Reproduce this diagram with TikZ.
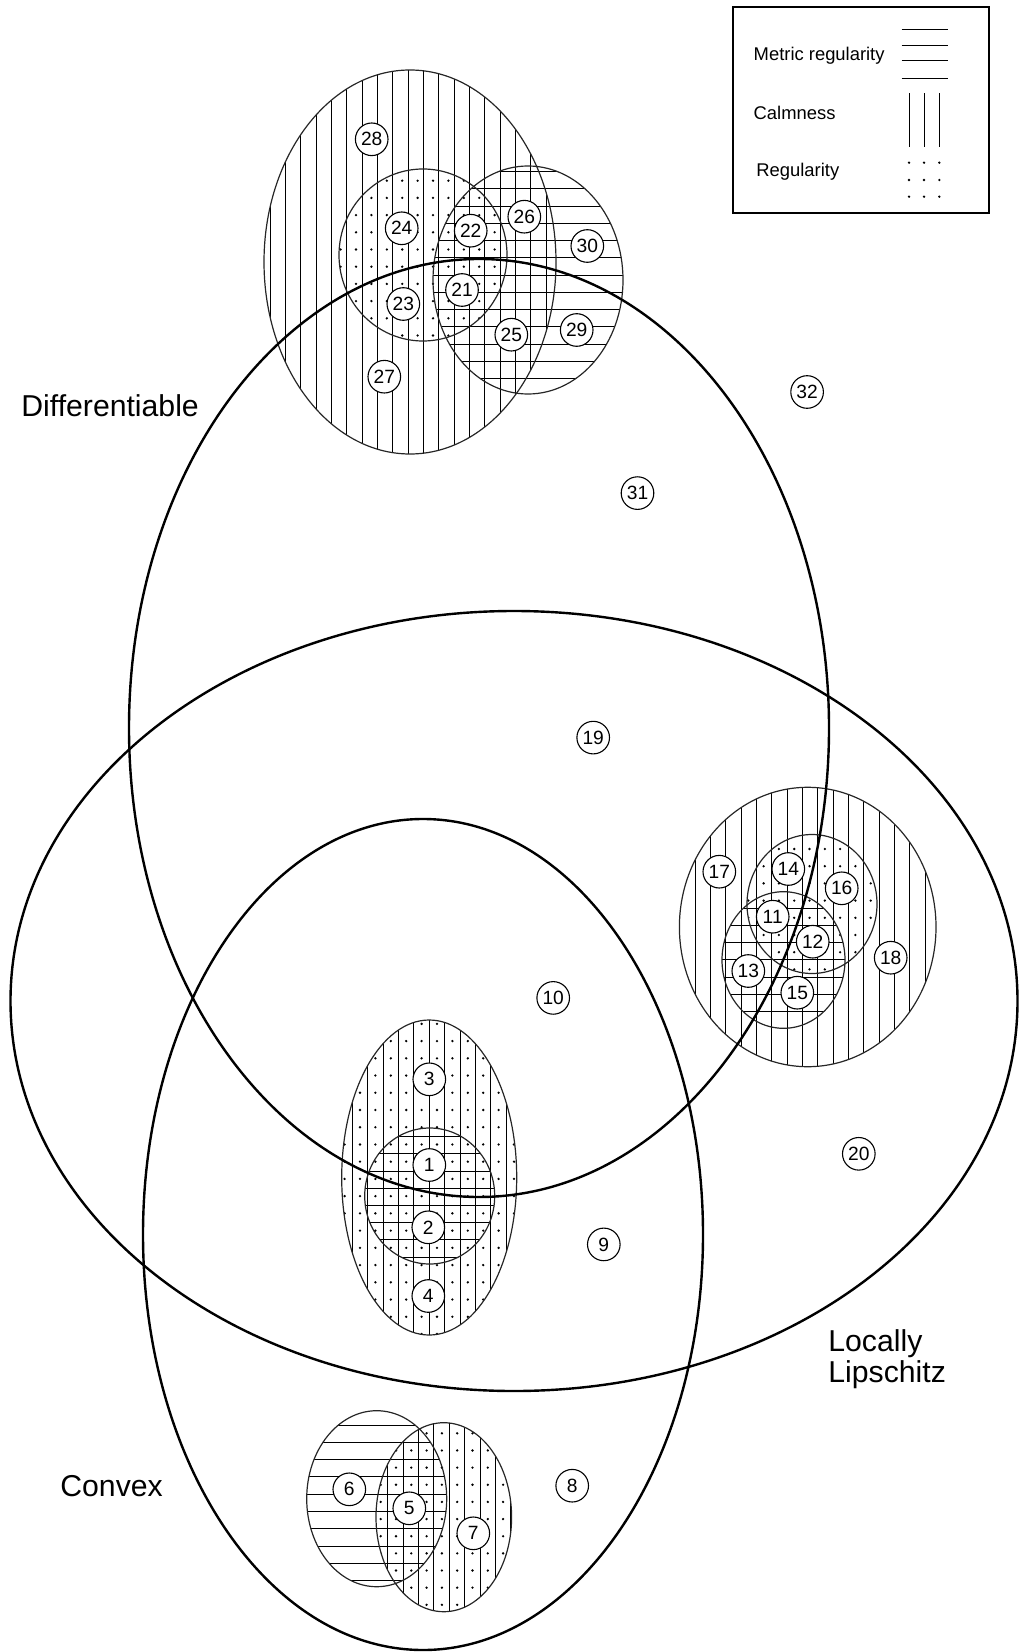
\documentclass[tikz,border=0pt]{standalone}
\usepackage{fontspec}
\setmainfont{Liberation Sans}
\tikzset{
    setline/.style={line width=1.2pt, black},
    hatchshape/.style={line width=0.6pt, black!85},
    hatchline/.style={line width=0.5pt, black},
    numnode/.style={circle, draw, line width=0.55pt, fill=white, minimum size=16.3pt, inner sep=0pt, font=\fontsize{9.6}{9.6}\selectfont},
    setlabel/.style={anchor=west, inner sep=0pt, align=left, font=\fontsize{15.1}{15.75}\selectfont},
    legendtext/.style={anchor=west, inner sep=0pt, font=\fontsize{9.2}{11}\selectfont},
}
\begin{document}
\begin{tikzpicture}[x=0.5pt, y=-0.5pt]
    \useasboundingbox (0,0) rectangle (1020,1652);
    % top group
    \begin{scope}
        \clip (410,262) ellipse [x radius=146, y radius=192];
        \foreach \x in {254.65,270,...,560} \draw[hatchline] (\x,60) -- (\x,460);
    \end{scope}
    \begin{scope}
        \clip (423,255) ellipse [x radius=84, y radius=86];
        \foreach \x in {340.6,356,...,510} \foreach \y in {163.5,180.7,...,345} \fill (\x,\y) circle (1.3);
    \end{scope}
    \begin{scope}
        \clip (528,280) ellipse [x radius=95, y radius=114];
        \foreach \y in {154.45,171.7,...,400} \draw[hatchline] (430,\y) -- (625,\y);
    \end{scope}
    \draw[hatchshape] (410,262) ellipse [x radius=146, y radius=192];
    \draw[hatchshape] (423,255) ellipse [x radius=84, y radius=86];
    \draw[hatchshape] (528,280) ellipse [x radius=95, y radius=114];
    % right group
    \begin{scope}
        \clip (807.7,927) ellipse [x radius=128.3, y radius=139.7];
        \foreach \x in {679.65,695,...,940} \draw[hatchline] (\x,785) -- (\x,1070);
    \end{scope}
    \begin{scope}
        \clip (812,904) ellipse [x radius=65, y radius=69.5];
        \foreach \x in {733,748.3,...,880} \foreach \y in {831.8,849,...,975} \fill (\x,\y) circle (1.3);
    \end{scope}
    \begin{scope}
        \clip (783.5,960) ellipse [x radius=61.5, y radius=68.3];
        \foreach \y in {873.8,891,...,1030} \draw[hatchline] (720,\y) -- (847,\y);
    \end{scope}
    \draw[hatchshape] (807.7,927) ellipse [x radius=128.3, y radius=139.7];
    \draw[hatchshape] (812,904) ellipse [x radius=65, y radius=69.5];
    \draw[hatchshape] (783.5,960) ellipse [x radius=61.5, y radius=68.3];
    % middle group
    \begin{scope}
        \clip (429.2,1177.5) ellipse [x radius=87.5, y radius=157.5];
        \foreach \x in {336.9,352.3,...,520} \draw[hatchline] (\x,1018) -- (\x,1337);
        \foreach \x in {344.6,360,...,520} \foreach \y in {1023.84,1041.07,...,1337} \fill (\x,\y) circle (1.3);
    \end{scope}
    \begin{scope}
        \clip (429.7,1196) ellipse [x radius=65, y radius=68];
        \foreach \y in {1119.5,1136.7,...,1265} \draw[hatchline] (363,\y) -- (496,\y);
    \end{scope}
    \draw[hatchshape] (429.2,1177.5) ellipse [x radius=87.5, y radius=157.5];
    \draw[hatchshape] (429.7,1196) ellipse [x radius=65, y radius=68];
    % bottom group
    \begin{scope}
        \clip (376.7,1498.7) ellipse [x radius=70, y radius=88];
        \foreach \y in {1407.7,1425,...,1590} \draw[hatchline] (305,\y) -- (448,\y);
    \end{scope}
    \begin{scope}
        \clip (443.8,1517.2) ellipse [x radius=67.8, y radius=94.5];
        \foreach \x in {372.3,387.7,...,515} \draw[hatchline] (\x,1420) -- (\x,1615);
        \foreach \x in {380.7,396,...,515} \foreach \y in {1416.15,1433.3,...,1615} \fill (\x,\y) circle (1.3);
    \end{scope}
    \draw[hatchshape] (376.7,1498.7) ellipse [x radius=70, y radius=88];
    \draw[hatchshape] (443.8,1517.2) ellipse [x radius=67.8, y radius=94.5];
    % the three sets
    \draw[setline] (479,728) ellipse [x radius=350, y radius=469];
    \draw[setline] (514,1001) ellipse [x radius=503.5, y radius=390];
    \draw[setline] (423,1234.5) ellipse [x radius=280, y radius=415.5];
    \node[setlabel] (diff) at (21,405.7) {Differentiable};
    \node[setlabel] (lip) at (828,1359) {Locally\\Lipschitz};
    \node[setlabel] (conv) at (60,1485.7) {Convex};
    % numbered cases
    \foreach \x/\y/\n in {429.3/1165/1, 428.3/1227.3/2, 429.3/1079.3/3, 428.3/1296/4,
        409.3/1508.3/5, 349.3/1489.3/6, 473.3/1533.3/7, 572.2/1485.7/8,
        603.8/1244.4/9, 553.2/997.9/10, 772.7/916.7/11, 812.7/941.7/12,
        748.3/971/13, 788.3/869/14, 797.3/992.7/15, 841.7/888.3/16,
        719.3/871.7/17, 890.7/957.7/18, 593.2/737.6/19, 858.8/1153.8/20,
        462/290/21, 470.7/230.7/22, 403.3/304/23, 401.7/228.3/24,
        511.3/334.7/25, 524.3/216.7/26, 384.3/376.7/27, 371.7/139.3/28,
        576.7/330/29, 587.3/246/30, 637.5/493.1/31, 807.1/392/32}
        \node[numnode] (n\n) at (\x,\y) {\n};
    % legend
    \draw[line width=1pt] (733.3,7.3) rectangle (989.3,213.3);
    \node[legendtext] (metric) at (753.3,56) {Metric regularity};
    \node[legendtext] (calm) at (753.3,112.7) {Calmness};
    \node[legendtext] (regul) at (756,171.7) {Regularity};
    \foreach \y in {29.3,46,61,78.3} \draw[hatchline] (901.7,\y) -- (947.7,\y);
    \foreach \x in {909,924,939.3} \draw[hatchline] (\x,93.3) -- (\x,146.7);
    \foreach \x in {909,924,939.3} \foreach \y in {162.7,180,196.7} \fill (\x,\y) circle (1.3);
\end{tikzpicture}
\end{document}
